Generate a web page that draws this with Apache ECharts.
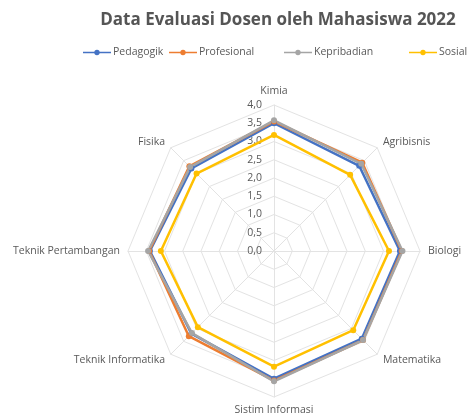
<!DOCTYPE html>
<html>
<head>
<meta charset="utf-8">
<script src="https://cdn.jsdelivr.net/npm/echarts@6/dist/echarts.min.js"></script>
<style>
  html, body { margin: 0; padding: 0; background: #fff; }
  #chartmain { width: 474px; height: 417px; }
</style>
</head>
<body>
<div id="chartmain"></div>
<script>
// kategori, urutan berlawanan jarum jam mulai dari atas (cara radar echarts menggambar)
var categories = ['Kimia', 'Fisika', 'Teknik Pertambangan', 'Teknik Informatika', 'Sistim Informasi', 'Matematika', 'Biologi', 'Agribisnis'];
var seriesNames = ['Pedagogik', 'Profesional', 'Kepribadian', 'Sosial'];
var pedagogik   = [3.50, 3.20, 3.40, 3.20, 3.50, 3.40, 3.45, 3.30];
var profesional = [3.55, 3.28, 3.42, 3.30, 3.55, 3.45, 3.50, 3.42];
var kepribadian = [3.58, 3.25, 3.45, 3.18, 3.57, 3.45, 3.52, 3.38];
var sosial      = [3.18, 3.00, 3.10, 2.95, 3.17, 3.07, 3.15, 2.95];
var colors = ['#4472C4', '#ED7D31', '#A5A5A5', '#FFC000'];
var allData = [pedagogik, profesional, kepribadian, sosial];

var indicator = categories.map(function (c, i) {
    var o = {name: c, min: 0, max: 4};
    if (i === 0) o.axisLabel = {show: true};
    return o;
});

// ikon legend: garis dengan titik di tengah
var lineIcon = 'path://M0,2.2 L26,2.2 L26,3.8 L0,3.8 Z M13,0.5 A2.5,2.5 0 1,1 12.99,0.5 Z';
var legendLeft = [78, 164, 279, 404];

var legends = seriesNames.map(function (n, i) {
    return {
        data: [{name: n, icon: lineIcon}],
        left: legendLeft[i],
        top: 42,
        itemWidth: 28,
        itemHeight: 6,
        textStyle: {color: '#595959', fontSize: 10.5, fontFamily: 'Open Sans', padding: [0, 0, 0, -3]}
    };
});

var series = [{
    type: 'radar',
    symbol: 'circle',
    symbolSize: 6,
    data: allData.map(function (vals, i) {
        return {
            name: seriesNames[i],
            value: vals,
            lineStyle: {color: colors[i], width: 2.5},
            itemStyle: {color: colors[i]}
        };
    })
}];

var option = {
    backgroundColor: '#fff',
    color: colors,
    title: {
        text: 'Data Evaluasi Dosen oleh Mahasiswa 2022',
        left: 273,
        top: 7,
        textAlign: 'center',
        textStyle: {color: '#555555', fontSize: 17, fontWeight: 'bold', fontFamily: 'Open Sans'}
    },
    legend: legends,
    radar: {
        center: [274, 251],
        radius: 146,
        startAngle: 90,
        splitNumber: 8,
        shape: 'polygon',
        nameGap: 8,
        axisName: {color: '#595959', fontSize: 10.5, fontFamily: 'Open Sans'},
        splitLine: {lineStyle: {color: '#E3E3E3', width: 1}},
        splitArea: {show: false},
        axisLine: {lineStyle: {color: '#E3E3E3'}},
        axisLabel: {
            show: false,
            color: '#595959',
            fontSize: 10.5,
            fontFamily: 'Open Sans',
            margin: 12,
            formatter: function (v) { return v.toFixed(1).replace('.', ','); }
        },
        indicator: indicator
    },
    series: series
};

var myChart = echarts.init(document.getElementById('chartmain'));
myChart.setOption(option);
</script>
</body>
</html>
